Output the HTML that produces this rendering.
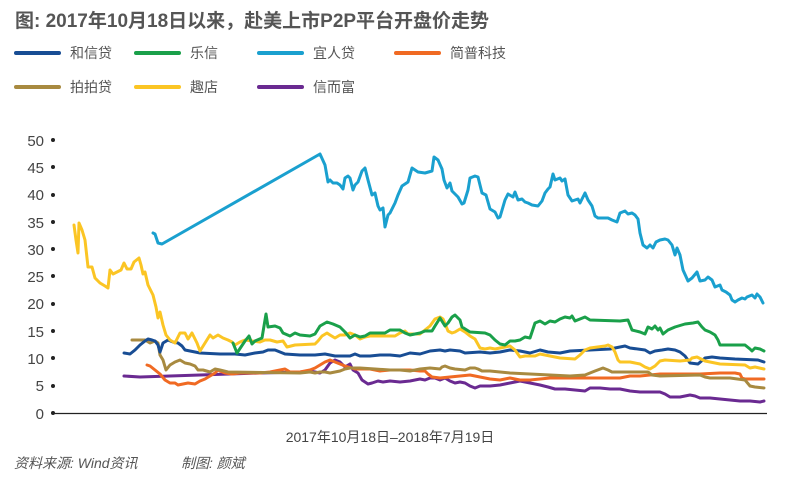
<!DOCTYPE html>
<html><head><meta charset="utf-8"><style>
html,body{margin:0;padding:0;background:#fff;}
body{width:790px;height:490px;overflow:hidden;font-family:"Liberation Sans","Noto Sans CJK SC",sans-serif;}
</style></head><body>
<svg width="790" height="490" viewBox="0 0 790 490" xmlns="http://www.w3.org/2000/svg" font-family="Liberation Sans, Noto Sans CJK SC, sans-serif">
<text x="15" y="27" font-size="19" font-weight="bold" fill="#555">图: 2017年10月18日以来，赴美上市P2P平台开盘价走势</text>
<g stroke-width="4" stroke-linecap="round">
<line x1="16" y1="53" x2="59" y2="53" stroke="#184d94"/>
<line x1="136" y1="53" x2="179" y2="53" stroke="#1aa04a"/>
<line x1="259" y1="53" x2="302" y2="53" stroke="#1aa0cf"/>
<line x1="396" y1="53" x2="439" y2="53" stroke="#f06a23"/>
<line x1="16" y1="87" x2="59" y2="87" stroke="#a88a40"/>
<line x1="136" y1="87" x2="179" y2="87" stroke="#fbc524"/>
<line x1="259" y1="87" x2="302" y2="87" stroke="#6a2a91"/>
</g>
<g font-size="14" fill="#555">
<text x="70" y="58">和信贷</text><text x="190" y="58">乐信</text><text x="313" y="58">宜人贷</text><text x="450" y="58">简普科技</text>
<text x="70" y="92">拍拍贷</text><text x="190" y="92">趣店</text><text x="313" y="92">信而富</text>
</g>
<g font-size="15" fill="#444" text-anchor="end">
<text x="44" y="419">0</text><text x="44" y="391">5</text><text x="44" y="364">10</text><text x="44" y="337">15</text><text x="44" y="309">20</text><text x="44" y="282">25</text><text x="44" y="255">30</text><text x="44" y="228">35</text><text x="44" y="200">40</text><text x="44" y="173">45</text><text x="44" y="146">50</text>
</g>
<g fill="#222">
<circle cx="53" cy="413" r="2"/><circle cx="53" cy="386" r="2"/><circle cx="53" cy="358" r="2"/><circle cx="53" cy="331" r="2"/><circle cx="53" cy="304" r="2"/><circle cx="53" cy="276" r="2"/><circle cx="53" cy="249" r="2"/><circle cx="53" cy="222" r="2"/><circle cx="53" cy="195" r="2"/><circle cx="53" cy="167" r="2"/><circle cx="53" cy="140" r="2"/>
</g>
<line x1="53" y1="413.5" x2="767" y2="413.5" stroke="#222" stroke-width="1.2"/>
<g fill="none" stroke-width="3" stroke-linejoin="round" stroke-linecap="round">
<polyline stroke="#6a2a91" points="124,376 140,377 200,375 260,373 300,372 310,371 315,372 320,373 325,370 330,363 335,360 340,362 345,367 350,364 353,370 358,373 362,380 368,384 372,383 378,381 383,382 390,381 400,382 410,381 420,379 425,380 430,378 435,378 440,380 445,378 450,381 455,383 460,382 465,383 470,386 475,388 480,386 490,386 500,385 510,383 520,381 530,383 540,385 548,387 555,389 565,389 575,390 585,391 590,388 600,388 610,389 620,389 630,391 640,392 660,392 665,394 670,397 680,397 685,396 690,395 695,396 700,398 710,398 720,399 730,400 740,401 750,401 760,402 764,401"/>
<polyline stroke="#f06a23" points="147,365 150,366 155,370 160,374 165,380 170,383 175,383 178,385 183,384 188,383 195,384 200,381 205,379 210,376 215,373 218,370 220,371 225,373 232,374 240,373 260,373 270,372 280,370 285,369 290,372 300,372 310,370 315,368 320,365 325,362 330,360 335,362 345,366 355,369 370,369 380,371 390,370 410,370 420,371 425,371 428,374 432,377 440,378 450,377 460,376 470,375 480,377 490,379 500,380 510,378 520,380 530,380 540,379 550,378 620,378 630,376 640,376 650,375 660,374 700,374 720,373 735,373 740,374 742,378 745,379 764,379"/>
<polyline stroke="#a88a40" points="132,340 145,340 150,343 155,341 158,343 160,355 163,360 166,370 170,365 175,362 180,360 185,363 190,364 195,366 198,370 203,370 210,372 215,369 220,370 228,372 300,373 310,372 315,373 320,372 325,372 330,373 340,371 345,369 350,368 360,368 375,369 390,370 400,370 410,371 420,369 430,368 440,369 442,367 445,366 450,368 455,369 465,370 470,368 475,368 478,369 482,371 490,371 500,372 510,373 530,374 550,375 570,376 585,375 595,371 603,368 608,370 612,372 648,372 652,375 660,376 700,375 705,377 710,378 730,378 745,380 750,386 755,387 764,388"/>
<polyline stroke="#184d94" points="124,353 130,354 135,350 140,345 145,341 148,339 152,340 155,341 158,345 160,352 163,343 168,340 173,342 178,343 182,346 185,350 195,352 200,353 220,354 235,354 245,355 255,353 263,352 268,350 275,350 280,352 285,354 300,355 315,355 325,354 335,356 350,356 355,354 360,356 370,356 380,355 390,355 400,356 410,353 420,354 430,351 440,350 445,351 450,350 460,351 465,353 480,352 490,353 500,352 510,350 520,351 530,353 540,350 548,352 560,353 570,351 590,350 610,349 620,347 625,346 630,348 645,350 650,353 655,351 662,350 668,349 675,350 680,352 685,356 690,363 698,364 705,358 712,357 720,358 735,359 758,360 764,362"/>
<polyline stroke="#fbc524" points="74,225 76,240 78,253 79,223 82,230 85,240 87,258 88,267 92,267 95,278 100,283 105,286 108,288 110,270 113,274 117,272 121,270 124,263 127,269 131,269 134,262 139,258 141,265 143,274 145,272 148,285 153,295 156,307 158,318 160,312 163,325 166,335 170,340 175,343 180,333 185,333 188,339 192,333 197,343 200,351 205,343 210,335 213,338 218,335 223,338 228,340 232,342 235,345 240,342 245,340 260,342 265,340 270,340 277,342 283,341 287,347 295,345 315,344 318,341 322,336 327,333 330,335 335,338 340,335 345,335 350,333 355,335 360,339 365,337 370,336 390,336 395,336 400,333 405,331 408,334 420,334 425,330 430,326 435,319 440,317 443,319 446,326 448,331 452,333 455,332 460,329 465,332 470,336 475,339 480,348 485,349 490,348 495,349 505,347 510,346 515,350 520,357 525,356 535,356 540,354 550,356 560,358 575,359 580,355 585,350 590,348 605,346 608,345 612,347 615,352 618,360 620,362 630,362 640,364 645,367 650,369 655,366 660,361 665,360 680,361 690,360 692,358 697,357 705,361 715,363 720,364 745,365 750,368 755,367 764,369"/>
<polyline stroke="#1aa04a" points="233,343 237,353 245,341 249,336 252,344 255,341 262,338 266,314 268,327 275,326 280,328 283,333 290,336 295,333 300,335 310,336 315,334 320,326 327,322 333,324 340,327 345,332 350,338 355,335 360,337 365,336 370,333 385,333 390,330 400,330 405,333 410,335 420,333 425,331 432,331 435,326 440,318 445,326 448,323 452,317 455,315 458,318 460,320 462,327 470,332 485,333 490,335 495,340 500,344 505,345 510,341 515,341 520,340 525,337 530,338 535,323 540,321 545,324 550,321 555,322 560,319 565,317 570,318 572,316 575,321 580,319 585,317 590,320 620,321 628,320 632,330 640,332 645,334 648,327 652,329 655,326 658,330 660,328 663,334 668,330 675,327 685,324 693,323 698,322 702,327 705,330 710,332 715,335 718,340 720,345 745,345 750,349 752,351 755,348 760,349 764,351"/>
<polyline stroke="#1aa0cf" points="153,233 155,234 158,243 162,244 320,154 325,165 328,182 330,180 333,183 337,183 340,185 343,189 345,178 348,176 350,178 353,190 355,185 358,182 362,171 365,168 368,180 372,195 375,193 378,206 380,210 383,208 385,227 388,215 390,213 395,203 398,195 402,186 408,182 412,168 418,172 425,173 432,171 434,157 438,160 442,169 444,180 447,188 450,183 452,191 458,197 462,204 464,203 468,190 470,178 475,176 478,177 482,193 486,195 490,209 495,212 498,218 500,217 505,200 508,194 513,197 515,192 518,200 522,199 525,202 528,203 532,205 538,206 542,201 545,193 548,189 550,187 553,174 555,180 560,178 562,181 565,179 568,195 572,201 578,199 580,203 583,197 585,193 588,200 592,206 595,216 598,218 608,218 612,220 617,222 620,213 625,211 628,214 632,213 635,215 638,219 640,233 643,245 647,248 650,245 653,248 656,242 660,240 665,239 668,240 672,245 675,255 677,248 680,255 683,270 688,281 692,278 697,272 700,281 705,280 708,277 712,280 715,287 720,285 722,290 726,292 730,295 732,300 735,302 738,300 742,298 745,299 747,297 752,295 755,298 757,294 760,297 763,303"/>
</g>
<text x="390" y="442" font-size="14" fill="#444" text-anchor="middle">2017年10月18日–2018年7月19日</text>
<text x="14" y="468" font-size="14" fill="#555" font-style="italic">资料来源: Wind资讯</text>
<text x="181" y="468" font-size="14" fill="#555" font-style="italic">制图: 颜斌</text>
</svg>
</body></html>
